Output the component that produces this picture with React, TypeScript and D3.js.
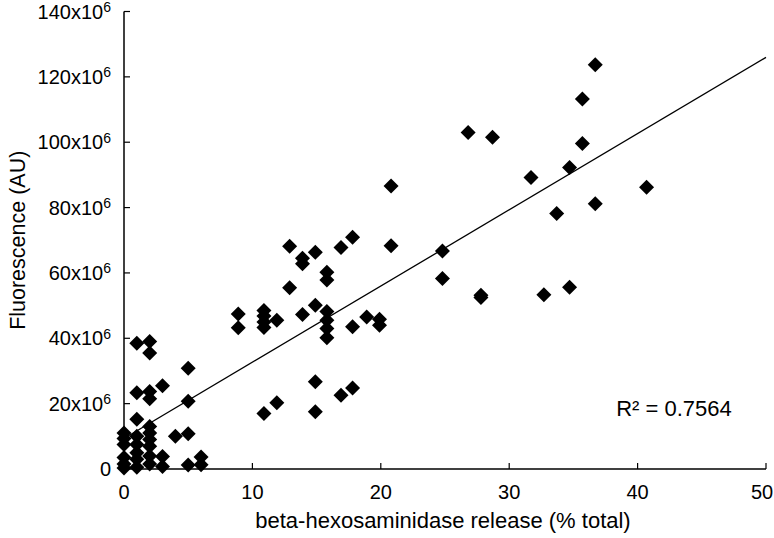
import React from 'react';
import * as d3 from 'd3';

// beta-hexosaminidase release (% total)
const xVals = [
  0, 0, 0, 0, 0, 0,
  1, 1, 1, 1, 1, 1, 1, 1,
  2, 2, 2, 2, 2, 2, 2, 2, 2, 2,
  3, 3, 3, 4, 5, 5, 5, 5, 6, 6,
  8.9, 8.9, 10.9, 10.9, 10.9, 10.9, 10.9, 11.9, 11.9,
  12.9, 12.9, 13.9, 13.9, 13.9, 14.9, 14.9, 14.9, 14.9,
  15.8, 15.8, 15.8, 15.8, 15.8, 15.8, 16.9, 16.9,
  17.8, 17.8, 17.8, 18.9, 19.9, 19.9, 20.8, 20.8,
  24.8, 24.8, 26.8, 27.8, 27.8, 28.7, 31.7, 32.7, 33.7,
  34.7, 34.7, 35.7, 35.7, 36.7, 36.7, 40.7,
];
// Fluorescence (x10^6 AU)
const yVals = [
  11, 9.3, 7.5, 3.5, 1.5, 0.3,
  38.5, 23.3, 15.2, 10, 7.5, 5, 3, 0.5,
  39, 35.5, 23.7, 21.5, 13, 11, 9, 7, 4, 1.5,
  25.5, 3.8, 0.8, 10, 30.8, 20.7, 10.8, 1.2, 3.7, 1.3,
  47.4, 43.2, 48.5, 46.8, 45, 43.3, 17, 45.5, 20.3,
  68.2, 55.5, 64.5, 62.8, 47.3, 66.3, 50.1, 26.7, 17.5,
  60.2, 57.8, 48.2, 45.5, 43, 40.2, 67.8, 22.6,
  70.9, 43.5, 24.8, 46.5, 45.8, 44, 86.6, 68.3,
  66.7, 58.3, 103, 53.2, 52.5, 101.5, 89.2, 53.3, 78.2,
  92.3, 55.6, 113.2, 99.6, 123.7, 81.2, 86.2,
];

const xTicks = [0, 10, 20, 30, 40, 50];
const yTicks = [0, 20, 40, 60, 80, 100, 120, 140];

// linear trendline
const fitIntercept = 9.35;
const fitSlope = 2.332;
const r2Label = 'R² = 0.7564';

const W = 774;
const H = 538;
const FONT = '"Liberation Sans", Arial, sans-serif';

export default function App() {
  const x = d3.scaleLinear().domain([0, 50]).range([124, 766]);
  const y = d3.scaleLinear().domain([0, 140]).range([469, 11.5]);

  const trend = d3
    .line<number>()
    .x((d) => x(d))
    .y((d) => y(fitIntercept + fitSlope * d));

  const diamond = 'M0,-7.5L7.5,0L0,7.5L-7.5,0Z';
  const points = xVals.map((v, i) => [v, yVals[i]]);

  return (
    <svg
      width={W}
      height={H}
      style={{ position: 'absolute', left: 0, top: 0, background: '#fff' }}
      fontFamily={FONT}
    >
      {/* axes */}
      <line x1={x(0)} x2={x(50)} y1={y(0)} y2={y(0)} stroke="#000" strokeWidth={1.5} />
      <line x1={x(0)} x2={x(0)} y1={y(0)} y2={y(140)} stroke="#000" strokeWidth={1.5} />
      {xTicks.slice(1).map((t) => (
        <line key={'xt' + t} x1={x(t)} x2={x(t)} y1={y(0)} y2={y(0) - 6} stroke="#000" strokeWidth={1.2} />
      ))}
      {yTicks.slice(1).map((t) => (
        <line key={'yt' + t} x1={x(0)} x2={x(0) + 6} y1={y(t)} y2={y(t)} stroke="#000" strokeWidth={1.2} />
      ))}

      {/* tick labels */}
      {xTicks.map((t) => (
        <text key={'xl' + t} x={Math.min(x(t), W - 12)} y={499} textAnchor="middle" fontSize={20}>
          {t}
        </text>
      ))}
      {yTicks.map((t) => (
        <text key={'yl' + t} x={111} y={y(t) + 7} textAnchor="end" fontSize={20}>
          {t === 0 ? (
            '0'
          ) : (
            <>
              {t}x10
              <tspan fontSize={14} dy={-6.5}>6</tspan>
            </>
          )}
        </text>
      ))}

      {/* axis titles */}
      <text x={x(25) - 2} y={528} textAnchor="middle" fontSize={22}>
        beta-hexosaminidase release (% total)
      </text>
      <text
        transform={`translate(25,${y(70)}) rotate(-90)`}
        textAnchor="middle"
        fontSize={21.5}
      >
        Fluorescence (AU)
      </text>

      {/* trendline */}
      <path d={trend([0, 50]) || ''} fill="none" stroke="#000" strokeWidth={1.3} />

      {/* points */}
      {points.map(([px, py], i) => (
        <path key={i} d={diamond} transform={`translate(${x(px)},${y(py)})`} fill="#000" />
      ))}

      <text x={674} y={416} textAnchor="middle" fontSize={22}>
        {r2Label}
      </text>
    </svg>
  );
}
